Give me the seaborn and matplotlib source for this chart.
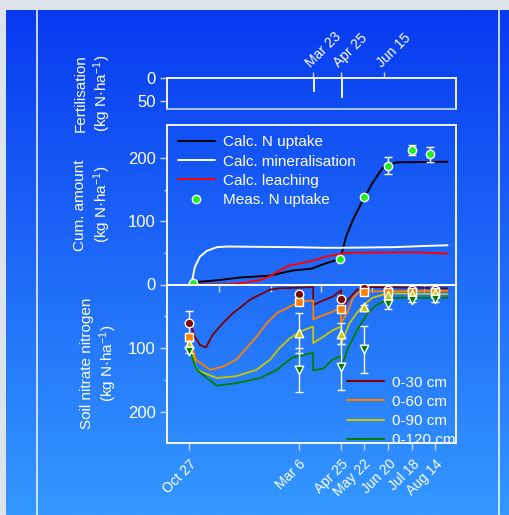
import numpy as np
import pandas as pd
import matplotlib
matplotlib.use("Agg")
import matplotlib.pyplot as plt
from matplotlib.patches import Rectangle
from matplotlib.lines import Line2D
import matplotlib.dates as mdates
import seaborn as sns

sns.set_theme(style="white")
plt.rcParams['font.family'] = ['Liberation Sans', 'DejaVu Sans']
plt.rcParams['mathtext.fontset'] = 'custom'
plt.rcParams['mathtext.rm'] = 'Liberation Sans'
plt.rcParams['mathtext.it'] = 'Liberation Sans:italic'
plt.rcParams['mathtext.bf'] = 'Liberation Sans:bold'

# ---------------- data ----------------
fert_dates = ["1999-03-23", "1999-04-25", "1999-06-15"]
fert_labels = ["Mar 23", "Apr 25", "Jun 15"]
fert_amount = [28, 40, 0]

calc_uptake_dates = ["1998-10-28", "1998-12-02", "1998-12-26", "1999-01-31", "1999-02-26",
                     "1999-03-21", "1999-04-04", "1999-04-20", "1999-04-25", "1999-05-01",
                     "1999-05-09", "1999-05-21", "1999-06-01", "1999-06-13", "1999-06-29",
                     "1999-08-29"]
calc_uptake = [3, 7, 11, 14, 22, 25, 32, 39, 45, 76, 102, 134, 160, 184, 193, 194]

mineral_dates = ["1998-10-27", "1998-10-30", "1998-11-03", "1998-11-09", "1998-11-17",
                 "1998-11-29", "1998-12-11", "1999-02-26", "1999-04-06", "1999-04-25",
                 "1999-06-26", "1999-08-05", "1999-08-29"]
mineral = [0, 1.5, 28, 44, 53, 59, 60, 59, 58, 58, 59, 61, 62]

leach_dates = ["1998-10-28", "1998-12-02", "1998-12-18", "1999-01-02", "1999-01-19",
               "1999-01-31", "1999-02-11", "1999-02-23", "1999-03-10", "1999-03-26",
               "1999-04-07", "1999-04-23", "1999-05-01", "1999-07-19", "1999-08-29"]
leach = [0, 0, 1, 3, 7, 13, 22, 30, 34, 39, 44, 48, 50, 51, 49]

meas_uptake_dates = ["1998-11-01", "1999-04-24", "1999-05-22", "1999-06-20", "1999-07-18", "1999-08-08"]
meas_uptake = [3, 41, 138, 188, 212, 206]
meas_uptake_err = [0, 0, 0, 13, 8, 12]

soil_dates = ["1998-10-27", "1999-03-06", "1999-04-25", "1999-05-22", "1999-06-20", "1999-07-18", "1999-08-14"]
soil_labels = ["Oct 27", "Mar 6", "Apr 25", "May 22", "Jun 20", "Jul 18", "Aug 14"]
meas_0_30 = [60, 15, 22, 5, 8, 9, 8]
meas_0_60 = [83, 28, 38, 12, 11, 12, 11]
meas_0_90 = [93, 76, 77, 35, 16, 15, 14]
meas_0_120 = [104, 134, 130, 102, 31, 24, 23]
err_0_30 = [19, 3, 3, 2, 2, 2, 2]
err_0_60 = [5, 3, 4, 2, 2, 2, 2]
err_0_90 = [5, 32, 17, 3, 3, 3, 3]
err_0_120 = [4, 35, 36, 37, 8, 4, 4]

s30_dates = ["1998-10-28", "1998-11-03", "1998-11-09", "1998-11-16", "1998-11-24", "1998-12-06",
             "1998-12-18", "1998-12-28", "1999-01-07", "1999-01-19", "1999-01-31", "1999-02-11",
             "1999-03-07", "1999-03-23", "1999-03-23", "1999-04-04", "1999-04-15", "1999-04-25",
             "1999-04-25", "1999-05-03", "1999-05-14", "1999-06-01", "1999-08-29"]
s30 = [61, 82, 95, 99, 79, 61, 45, 35, 24, 16, 8, 6, 5, 4, 32, 25, 19, 9, 40, 24, 8, 4, 6]

s60_dates = ["1998-10-28", "1998-11-04", "1998-11-21", "1998-12-06", "1998-12-22", "1999-01-03",
             "1999-01-15", "1999-01-27", "1999-02-08", "1999-02-23", "1999-03-07", "1999-03-23",
             "1999-03-23", "1999-04-04", "1999-04-15", "1999-04-25", "1999-04-25", "1999-05-03",
             "1999-05-09", "1999-05-17", "1999-08-29"]
s60 = [83, 118, 134, 129, 118, 100, 82, 61, 45, 35, 27, 25, 55, 48, 43, 35, 60, 43, 21, 11, 10]

s90_dates = ["1998-10-28", "1998-11-05", "1998-11-29", "1998-12-22", "1999-01-15", "1999-01-31",
             "1999-02-11", "1999-02-23", "1999-03-07", "1999-03-23", "1999-03-23", "1999-04-04",
             "1999-04-15", "1999-04-25", "1999-04-25", "1999-05-05", "1999-05-13", "1999-05-21",
             "1999-06-01", "1999-06-18", "1999-08-29"]
s90 = [93, 134, 147, 144, 134, 118, 100, 85, 74, 66, 92, 82, 72, 66, 94, 61, 46, 33, 21, 14, 15]

s120_dates = ["1998-10-28", "1998-11-05", "1998-11-29", "1998-12-22", "1999-01-19", "1999-02-08",
              "1999-02-26", "1999-03-23", "1999-03-23", "1999-04-04", "1999-04-15", "1999-04-25",
              "1999-04-25", "1999-05-03", "1999-05-13", "1999-05-25", "1999-06-05", "1999-06-18",
              "1999-07-01", "1999-08-29"]
s120 = [104, 134, 159, 155, 147, 134, 115, 107, 135, 132, 118, 112, 132, 101, 74, 48, 33, 24, 21, 21]

depth_labels = ["0-30 cm", "0-60 cm", "0-90 cm", "0-120 cm"]
depth_colors = ["#800000", "#ff8000", "#c8c800", "#008000"]
depth_markers = ["o", "s", "^", "v"]

# ---------------- figure ----------------
W, H = 509, 515
fig = plt.figure(figsize=(W / 100, H / 100), dpi=100)

bg = fig.add_axes([0, 0, 1, 1], zorder=-10)
bg.add_patch(Rectangle((0, 0), W, H, color="#dde3eb", zorder=0))
top_c = np.array([8, 58, 240]) / 255
bot_c = np.array([52, 152, 255]) / 255
t = np.linspace(0, 1, 256)[:, None, None]
grad = top_c[None, None, :] * (1 - t) + bot_c[None, None, :] * t
bg.imshow(grad, extent=(6, W, H, 10), aspect="auto", interpolation="bilinear", zorder=1)
bg.plot([37, 37], [10, H], color="#e8f0ff", lw=1.2, zorder=2)
bg.plot([499, 499], [10, H], color="#e8f0ff", lw=1.2, zorder=2)
bg.set_xlim(0, W)
bg.set_ylim(H, 0)
bg.axis("off")

L, R = 167, 456
def rect(top, bottom):
    return [L / W, 1 - bottom / H, (R - L) / W, (bottom - top) / H]

ax1 = fig.add_axes(rect(78, 109))
ax2 = fig.add_axes(rect(125, 284.5))
ax3 = fig.add_axes(rect(284.5, 443))
for ax in (ax1, ax2, ax3):
    ax.set_facecolor("none")
    for s in ax.spines.values():
        s.set_color("white")
        s.set_linewidth(1.3)

xmin, xmax = pd.Timestamp("1998-10-01"), pd.Timestamp("1999-09-08")
white = "white"

# ---- panel 1: fertilisation ----
ax1.bar(pd.to_datetime(fert_dates), fert_amount, width=1.2, color=white, edgecolor=white, linewidth=0.6)
ax1.set_ylim(67, 0)
ax1.set_yticks([0, 50])
ax1.xaxis.tick_top()
ax1.set_xticks(pd.to_datetime(fert_dates))
ax1.set_xticklabels(fert_labels, rotation=45, ha="left", va="bottom", rotation_mode="anchor",
                    fontsize=10, color=white)
ax1.tick_params(axis="x", direction="out", length=4.5, width=1, color="#c8d8ff", pad=1.5)
ax1.spines["bottom"].set_color("#b4cfd6")
ax1.set_xlim(xmin, xmax)

# ---- panel 2: cumulative amounts ----
sns.lineplot(x=pd.to_datetime(calc_uptake_dates), y=calc_uptake, ax=ax2, color="black",
             lw=1.4, sort=False, estimator=None)
sns.lineplot(x=pd.to_datetime(mineral_dates), y=mineral, ax=ax2, color="white",
             lw=1.4, sort=False, estimator=None)
sns.lineplot(x=pd.to_datetime(leach_dates), y=leach, ax=ax2, color="#ff0000",
             lw=1.4, sort=False, estimator=None)
ax2.errorbar(pd.to_datetime(meas_uptake_dates), meas_uptake, yerr=meas_uptake_err, fmt="none",
             ecolor=white, elinewidth=1, capsize=3, capthick=1, zorder=4)
sns.scatterplot(x=pd.to_datetime(meas_uptake_dates), y=meas_uptake, ax=ax2, marker="o", s=36,
                color="#22ee22", edgecolor="white", linewidth=1, zorder=5)
ax2.set_ylim(0, 252)
ax2.set_yticks([100, 200])
ax2.set_yticks([0, 50, 150], minor=True)
ax2.set_yticklabels(["100", "200"])
ax2.xaxis.set_major_locator(mdates.MonthLocator(bymonth=(12, 2, 4, 6, 8)))
ax2.set_xticklabels([])
ax2.tick_params(axis="x", direction="out", length=5, width=1, color="#c8d8ff", bottom=True)
ax2.set_xlim(xmin, xmax)
ax2.set_xlabel("")
h2 = [Line2D([], [], color="black", lw=1.4), Line2D([], [], color="white", lw=1.4),
      Line2D([], [], color="#ff0000", lw=1.4),
      Line2D([], [], color="#22ee22", marker="o", ls="none", markersize=6,
             markeredgecolor="white", markeredgewidth=1)]
l2 = ["Calc. N uptake", "Calc. mineralisation", "Calc. leaching", "Meas. N uptake"]
ax2.legend(h2, l2, loc="upper left", bbox_to_anchor=(0.038, 0.935), borderaxespad=0, borderpad=0,
           frameon=False, labelcolor=white, fontsize=11, handlelength=2.4, handletextpad=0.55,
           labelspacing=0.34)

# ---- panel 3: soil nitrate ----
line_sets = [(s30_dates, s30), (s60_dates, s60), (s90_dates, s90), (s120_dates, s120)]
meas_sets = [meas_0_30, meas_0_60, meas_0_90, meas_0_120]
err_sets = [err_0_30, err_0_60, err_0_90, err_0_120]
for (d, v), c in zip(line_sets, depth_colors):
    sns.lineplot(x=pd.to_datetime(d), y=v, ax=ax3, color=c, lw=1.3, sort=False, estimator=None)
sd = pd.to_datetime(soil_dates)
for m, e in zip(meas_sets, err_sets):
    ax3.errorbar(sd, m, yerr=e, fmt="none", ecolor=white, elinewidth=1, capsize=3, capthick=1, zorder=4)
for m, c, mk in zip(meas_sets, depth_colors, depth_markers):
    sns.scatterplot(x=sd, y=m, ax=ax3, marker=mk, s=38, color=c, edgecolor="white",
                    linewidth=1, zorder=5)
ax3.set_ylim(249, 0)
ax3.set_yticks([0, 100, 200])
ax3.set_yticks([50, 150], minor=True)
ax3.set_xticks(sd)
ax3.set_xticklabels(soil_labels, rotation=45, ha="right", va="top", rotation_mode="anchor",
                    fontsize=10, color=white)
ax3.tick_params(axis="x", direction="out", length=5, width=1, color="#c8d8ff", bottom=True, pad=5)
ax3.set_xlim(xmin, xmax)
ax3.set_xlabel("")
h3 = [Line2D([], [], color=c, lw=1.5) for c in depth_colors]
ax3.legend(h3, depth_labels, loc="upper left", bbox_to_anchor=(0.623, 0.425), borderaxespad=0,
           borderpad=0, frameon=False, labelcolor=white, fontsize=11, handlelength=2.4,
           handletextpad=0.55, labelspacing=0.34)

for ax in (ax1, ax2, ax3):
    ax.tick_params(axis="y", which="major", direction="out", length=5, width=1, color="#c8d8ff",
                   labelsize=12, labelcolor=white, pad=3, left=True)
    ax.tick_params(axis="y", which="minor", direction="out", length=2.5, width=1, color="#c8d8ff",
                   left=True)

ylabel_kw = dict(color=white, fontsize=11, linespacing=1.25)
ax1.set_ylabel("Fertilisation\n(kg N·ha$^{-1}$)", **ylabel_kw)
ax2.set_ylabel("Cum. amount\n(kg N·ha$^{-1}$)", **ylabel_kw)
ax3.set_ylabel("Soil nitrate nitrogen\n(kg N·ha$^{-1}$)", **ylabel_kw)
ax1.yaxis.set_label_coords(-0.187, 0.5)
ax2.yaxis.set_label_coords(-0.187, 0.5)
ax3.yaxis.set_label_coords(-0.165, 0.5)

fig.savefig("out.png", dpi=100)
